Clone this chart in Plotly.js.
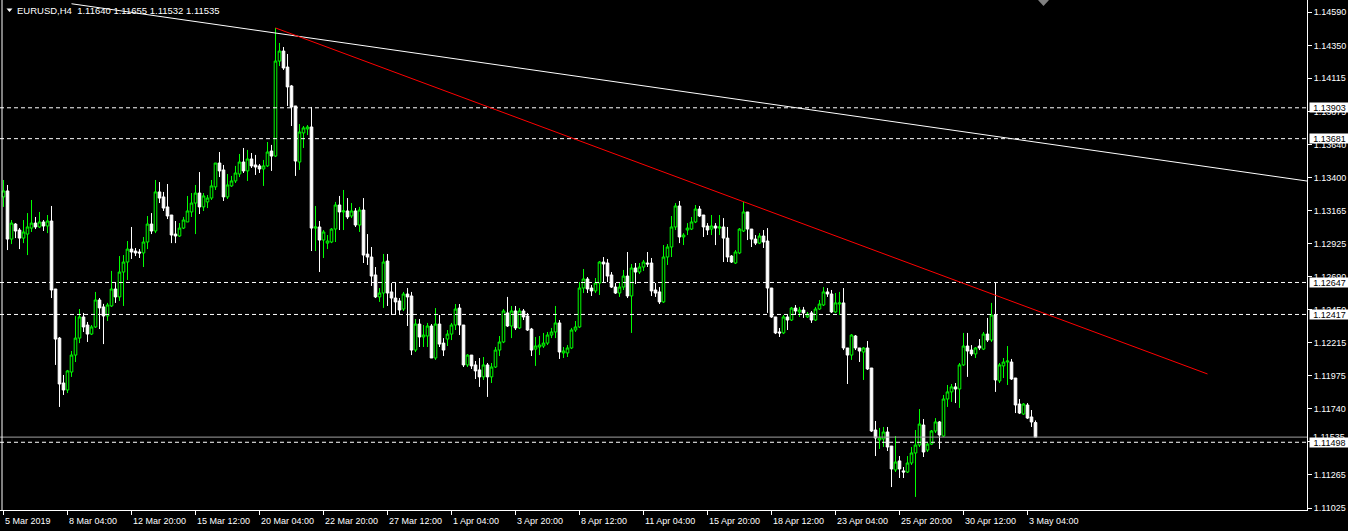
<!DOCTYPE html>
<html><head><meta charset="utf-8">
<script src="https://cdn.plot.ly/plotly-3.0.1.min.js"></script>
<style>html,body{margin:0;padding:0;background:#000;overflow:hidden}#chart{width:1348px;height:531px}</style>
</head><body><div id="chart"></div>
<script>
const symbolTitle = "EURUSD,H4";
const lastQuote = ["1.11640", "1.11655", "1.11532", "1.11535"];

const open = [
1.13262,1.13305,1.12959,1.13067,1.13024,1.12966,1.12995,1.13038,1.13074,1.13046,
1.13082,1.13053,1.13089,1.12600,1.12247,1.11924,1.11874,1.12003,1.12125,1.12247,
1.12399,1.12341,1.12276,1.12327,1.12521,1.12471,1.12406,1.12478,1.12600,1.12543,
1.12722,1.12794,1.12887,1.12873,1.12866,1.12859,1.12938,1.13067,1.13017,1.13298,
1.13262,1.13190,1.13132,1.12995,1.12981,1.13038,1.13082,1.13154,1.13218,1.13290,
1.13190,1.13226,1.13254,1.13334,1.13506,1.13456,1.13262,1.13341,1.13377,1.13427,
1.13513,1.13449,1.13535,1.13492,1.13485,1.13463,1.13485,1.13592,1.13556,1.14239,
1.14311,1.14196,1.14060,1.13916,1.13513,1.13722,1.13751,1.13765,1.13038,1.13046,
1.12952,1.12930,1.12938,1.13031,1.13204,1.13154,1.13161,1.13125,1.13161,1.13060,
1.13168,1.12851,1.12830,1.12701,1.12543,1.12571,1.12801,1.12579,1.12535,1.12514,
1.12456,1.12564,1.12550,1.12161,1.12348,1.12255,1.12262,1.12334,1.12104,1.12348,
1.12211,1.12240,1.12276,1.12341,1.12463,1.12341,1.12054,1.12125,1.12054,1.12018,
1.11968,1.12054,1.11968,1.12039,1.12161,1.12219,1.12428,1.12334,1.12442,1.12320,
1.12442,1.12406,1.12312,1.12168,1.12183,1.12190,1.12211,1.12269,1.12291,1.12356,
1.12140,1.12140,1.12176,1.12305,1.12327,1.12607,1.12672,1.12607,1.12586,1.12643,
1.12794,1.12787,1.12701,1.12614,1.12571,1.12614,1.12693,1.12550,1.12751,1.12722,
1.12758,1.12787,1.12787,1.12593,1.12579,1.12507,1.12830,1.12902,1.13046,1.13197,
1.12974,1.13024,1.13031,1.13082,1.13175,1.13132,1.13053,1.13031,1.13053,1.13038,
1.13046,1.12966,1.12837,1.12787,1.12859,1.13017,1.13154,1.13031,1.12959,1.12930,
1.12981,1.12945,1.12607,1.12399,1.12291,1.12284,1.12399,1.12377,1.12463,1.12435,
1.12449,1.12399,1.12428,1.12377,1.12456,1.12485,1.12579,1.12564,1.12435,1.12492,
1.12500,1.12176,1.12125,1.12262,1.12176,1.12147,1.12176,1.12032,1.11586,1.11514,
1.11522,1.11572,1.11471,1.11299,1.11364,1.11292,1.11284,1.11349,1.11421,1.11478,
1.11622,1.11442,1.11485,1.11579,1.11644,1.11543,1.11809,1.11860,1.11896,1.11881,
1.12054,1.12190,1.12161,1.12133,1.12190,1.12168,1.12276,1.12233,1.12413,1.11939,
1.12047,1.12075,1.12075,1.11960,1.11773,1.11701,1.11766,1.11680,1.11640
];
const high = [
1.13384,1.13348,1.13096,1.13074,1.13038,1.13096,1.13146,1.13240,1.13118,1.13154,
1.13096,1.13132,1.13197,1.12600,1.12255,1.11982,1.12018,1.12154,1.12406,1.12456,
1.12428,1.12363,1.12341,1.12579,1.12535,1.12493,1.12500,1.12730,1.12643,1.12837,
1.12844,1.12945,1.13046,1.12895,1.12887,1.12974,1.13125,1.13146,1.13384,1.13369,
1.13298,1.13355,1.13132,1.13089,1.13074,1.13118,1.13269,1.13290,1.13348,1.13441,
1.13290,1.13276,1.13384,1.13506,1.13585,1.13492,1.13427,1.13413,1.13485,1.13571,
1.13614,1.13600,1.13578,1.13564,1.13499,1.13528,1.13657,1.13636,1.14477,1.14369,
1.14340,1.14290,1.14067,1.13916,1.13786,1.13772,1.13779,1.13909,1.13197,1.13089,
1.13024,1.12988,1.13038,1.13226,1.13269,1.13312,1.13254,1.13218,1.13182,1.13190,
1.13254,1.12995,1.12902,1.12758,1.12607,1.12852,1.12852,1.12643,1.12650,1.12535,
1.12579,1.12607,1.12579,1.12384,1.12384,1.12341,1.12356,1.12348,1.12463,1.12413,
1.12247,1.12305,1.12356,1.12492,1.12492,1.12341,1.12132,1.12125,1.12082,1.12104,
1.12111,1.12068,1.12068,1.12183,1.12262,1.12456,1.12543,1.12478,1.12478,1.12463,
1.12456,1.12428,1.12320,1.12255,1.12262,1.12284,1.12291,1.12320,1.12478,1.12377,
1.12183,1.12197,1.12320,1.12370,1.12650,1.12744,1.12686,1.12629,1.12679,1.12801,
1.12830,1.12816,1.12722,1.12643,1.12643,1.12737,1.12866,1.12780,1.12787,1.12787,
1.12809,1.12866,1.12823,1.12643,1.12614,1.12916,1.12923,1.13125,1.13218,1.13233,
1.13002,1.13074,1.13118,1.13204,1.13197,1.13132,1.13074,1.13132,1.13074,1.13132,
1.13110,1.13046,1.12844,1.12880,1.13038,1.13226,1.13154,1.13031,1.12988,1.13002,
1.13024,1.13038,1.12607,1.12399,1.12320,1.12413,1.12413,1.12471,1.12485,1.12471,
1.12471,1.12435,1.12442,1.12471,1.12521,1.12614,1.12607,1.12593,1.12571,1.12579,
1.12607,1.12176,1.12276,1.12269,1.12176,1.12183,1.12226,1.12032,1.11651,1.11601,
1.11608,1.11608,1.11471,1.11543,1.11399,1.11320,1.11399,1.11464,1.11586,1.11737,
1.11665,1.11493,1.11586,1.11672,1.11651,1.11838,1.11910,1.11917,1.11924,1.12068,
1.12284,1.12284,1.12197,1.12183,1.12240,1.12291,1.12392,1.12500,1.12650,1.12068,
1.12104,1.12190,1.12097,1.11960,1.11809,1.11780,1.11780,1.11730,1.11655
];
const low = [
1.13190,1.12880,1.12923,1.12966,1.12887,1.12930,1.12844,1.13010,1.13031,1.13038,
1.13017,1.13002,1.12535,1.12054,1.11752,1.11838,1.11852,1.11968,1.12075,1.12211,
1.12291,1.12219,1.12269,1.12320,1.12312,1.12204,1.12370,1.12471,1.12500,1.12514,
1.12478,1.12665,1.12816,1.12837,1.12823,1.12758,1.12887,1.12995,1.13002,1.13218,
1.13161,1.13103,1.12930,1.12930,1.12974,1.13031,1.13082,1.13118,1.12995,1.13139,
1.13161,1.13182,1.13240,1.13312,1.13405,1.13233,1.13247,1.13334,1.13362,1.13405,
1.13434,1.13377,1.13470,1.13420,1.13434,1.13341,1.13477,1.13449,1.13549,1.14203,
1.14175,1.13916,1.13772,1.13413,1.13456,1.13614,1.13707,1.12873,1.12873,1.12722,
1.12823,1.12887,1.12930,1.12938,1.13024,1.13024,1.13103,1.13110,1.13046,1.13010,
1.12787,1.12773,1.12622,1.12535,1.12507,1.12464,1.12478,1.12413,1.12420,1.12420,
1.12442,1.12334,1.12125,1.12147,1.12183,1.12183,1.12183,1.12104,1.12090,1.12183,
1.12118,1.12190,1.12233,1.12305,1.12269,1.12039,1.12039,1.12025,1.11953,1.11896,
1.11946,1.11824,1.11924,1.12032,1.12118,1.12211,1.12327,1.12247,1.12305,1.12312,
1.12377,1.12298,1.12118,1.12047,1.12125,1.12176,1.12197,1.12247,1.12247,1.12097,
1.12104,1.12111,1.12168,1.12291,1.12320,1.12571,1.12571,1.12550,1.12571,1.12557,
1.12643,1.12650,1.12607,1.12564,1.12543,1.12593,1.12535,1.12284,1.12636,1.12708,
1.12730,1.12758,1.12550,1.12543,1.12492,1.12500,1.12773,1.12830,1.13024,1.12930,
1.12916,1.12988,1.13024,1.13074,1.13118,1.12974,1.12988,1.12988,1.12916,1.12988,
1.12794,1.12794,1.12787,1.12780,1.12851,1.13010,1.12952,1.12902,1.12916,1.12923,
1.12895,1.12428,1.12392,1.12276,1.12255,1.12276,1.12305,1.12370,1.12413,1.12399,
1.12392,1.12392,1.12356,1.12370,1.12449,1.12478,1.12543,1.12428,1.12428,1.12413,
1.12161,1.11917,1.12090,1.12161,1.12075,1.11946,1.12018,1.11572,1.11399,1.11450,
1.11464,1.11435,1.11176,1.11284,1.11241,1.11241,1.11277,1.11335,1.11105,1.11464,
1.11392,1.11428,1.11478,1.11565,1.11450,1.11536,1.11752,1.11788,1.11780,1.11745,
1.12047,1.11968,1.12118,1.12104,1.12161,1.12161,1.12219,1.12219,1.11860,1.11924,
1.11960,1.11910,1.11946,1.11708,1.11701,1.11694,1.11665,1.11608,1.11532
];
const close = [
1.13305,1.12959,1.13074,1.13017,1.12966,1.13010,1.13046,1.13074,1.13046,1.13082,
1.13053,1.13089,1.12593,1.12240,1.11917,1.11874,1.12011,1.12125,1.12247,1.12399,
1.12327,1.12276,1.12327,1.12521,1.12464,1.12406,1.12485,1.12600,1.12543,1.12722,
1.12794,1.12887,1.12866,1.12859,1.12859,1.12938,1.13067,1.13017,1.13298,1.13254,
1.13182,1.13125,1.12988,1.12981,1.13038,1.13096,1.13161,1.13218,1.13290,1.13190,
1.13269,1.13254,1.13341,1.13506,1.13449,1.13262,1.13348,1.13377,1.13434,1.13513,
1.13449,1.13535,1.13485,1.13477,1.13463,1.13485,1.13585,1.13556,1.14239,1.14311,
1.14189,1.14053,1.13909,1.13520,1.13729,1.13758,1.13765,1.13038,1.13046,1.12952,
1.13010,1.12945,1.13031,1.13204,1.13154,1.13161,1.13118,1.13161,1.13060,1.13168,
1.12844,1.12830,1.12693,1.12543,1.12571,1.12794,1.12571,1.12535,1.12507,1.12449,
1.12564,1.12543,1.12161,1.12348,1.12255,1.12269,1.12334,1.12104,1.12348,1.12204,
1.12161,1.12276,1.12341,1.12456,1.12341,1.12054,1.12125,1.12047,1.12011,1.11968,
1.12054,1.11968,1.12039,1.12161,1.12219,1.12442,1.12334,1.12442,1.12320,1.12442,
1.12399,1.12305,1.12161,1.12190,1.12197,1.12211,1.12269,1.12291,1.12356,1.12147,
1.12154,1.12176,1.12305,1.12327,1.12607,1.12672,1.12600,1.12586,1.12643,1.12794,
1.12780,1.12693,1.12614,1.12571,1.12614,1.12693,1.12550,1.12751,1.12722,1.12758,
1.12794,1.12780,1.12586,1.12571,1.12507,1.12830,1.12902,1.13046,1.13197,1.12974,
1.12988,1.13038,1.13082,1.13175,1.13125,1.13046,1.13024,1.13053,1.13038,1.13046,
1.12966,1.12830,1.12794,1.12866,1.13031,1.13154,1.13031,1.12959,1.12930,1.12981,
1.12938,1.12607,1.12399,1.12284,1.12284,1.12399,1.12377,1.12463,1.12442,1.12449,
1.12428,1.12420,1.12377,1.12456,1.12492,1.12579,1.12564,1.12435,1.12500,1.12500,
1.12176,1.12125,1.12269,1.12176,1.12154,1.12176,1.12025,1.11579,1.11529,1.11529,
1.11572,1.11464,1.11306,1.11356,1.11306,1.11284,1.11349,1.11421,1.11478,1.11629,
1.11428,1.11485,1.11579,1.11644,1.11550,1.11809,1.11860,1.11896,1.11881,1.12054,
1.12190,1.12154,1.12133,1.12176,1.12176,1.12276,1.12233,1.12413,1.11946,1.12054,
1.12075,1.12082,1.11953,1.11766,1.11708,1.11773,1.11672,1.11644,1.11535
];

const xTickLabels = ["5 Mar 2019","8 Mar 04:00","12 Mar 20:00","15 Mar 12:00","20 Mar 04:00",
  "22 Mar 20:00","27 Mar 12:00","1 Apr 04:00","3 Apr 20:00","8 Apr 12:00","11 Apr 04:00",
  "15 Apr 20:00","18 Apr 12:00","23 Apr 04:00","25 Apr 20:00","30 Apr 12:00","3 May 04:00"];
const barsPerLabel = 16;
const yTickValues = [1.14590,1.14350,1.14115,1.13875,1.13640,1.13400,1.13165,1.12925,
  1.12690,1.12450,1.12215,1.11975,1.11740,1.11505,1.11265,1.11025];
const levelLines = [1.13903, 1.13681, 1.12647, 1.12417, 1.11498];
const bidPrice = 1.11535;
const whiteTrend = {x: [17, 340], y: [1.14651, 1.13318]};
const redTrend = {x: [68, 301], y: [1.14477, 1.11989]};

const idx = open.map((_, i) => i);
const FONT = 'Liberation Sans, Arial, sans-serif';

const trace = {
  type: 'candlestick', x: idx, open: open, high: high, low: low, close: close,
  increasing: {line: {color: '#00ff00', width: 1}, fillcolor: '#000000'},
  decreasing: {line: {color: '#ffffff', width: 1}, fillcolor: '#ffffff'},
  whiskerwidth: 0, hoverinfo: 'skip'
};

const W = 1307, H = 510;
const shapes = [];
levelLines.forEach(v => shapes.push({type: 'line', xref: 'paper', x0: 0, x1: 1, yref: 'y', y0: v, y1: v,
  line: {color: '#ffffff', width: 1, dash: '4px,3px'}}));
shapes.push({type: 'line', xref: 'paper', x0: 0, x1: 1, yref: 'y', y0: bidPrice, y1: bidPrice,
  line: {color: '#a0a0a0', width: 1}});
shapes.push({type: 'line', xref: 'x', yref: 'y', x0: whiteTrend.x[0], x1: whiteTrend.x[1],
  y0: whiteTrend.y[0], y1: whiteTrend.y[1], line: {color: '#ffffff', width: 1}});
shapes.push({type: 'line', xref: 'x', yref: 'y', x0: redTrend.x[0], x1: redTrend.x[1],
  y0: redTrend.y[0], y1: redTrend.y[1], line: {color: '#ff0000', width: 1}});
shapes.push({type: 'line', xref: 'paper', yref: 'paper', x0: 2 / W, x1: 2 / W, y0: 0, y1: 1,
  line: {color: '#ffffff', width: 1}});
// small title triangle
shapes.push({type: 'path', xref: 'paper', yref: 'paper',
  path: `M ${6.5 / W} ${1 - 8.5 / H} L ${12.5 / W} ${1 - 8.5 / H} L ${9.5 / W} ${1 - 12 / H} Z`,
  fillcolor: '#ffffff', line: {width: 0}});
// chart shift marker
shapes.push({type: 'path', xref: 'paper', yref: 'paper',
  path: `M ${1038 / W} 1 L ${1049 / W} 1 L ${1043.5 / W} ${1 - 6 / H} Z`,
  fillcolor: '#808080', line: {width: 0}});

const annotations = [];
annotations.push({xref: 'paper', yref: 'paper', x: 0, y: 1, xanchor: 'left', yanchor: 'top',
  xshift: 16, yshift: -4, showarrow: false, borderpad: 0,
  text: symbolTitle + '  ' + lastQuote.join(' '), font: {family: FONT, size: 9.5, color: '#ffffff'}});
xTickLabels.forEach((t, k) => annotations.push({xref: 'x', yref: 'paper', x: k * barsPerLabel, y: 0,
  xanchor: 'left', yanchor: 'top', xshift: 0, yshift: -5, showarrow: false, borderpad: 0,
  text: t, font: {family: FONT, size: 9, color: '#ffffff'}}));
annotations.push({xref: 'paper', yref: 'y', x: 1, y: bidPrice, xanchor: 'left', yanchor: 'middle',
  xshift: 5, showarrow: false, borderpad: 0, text: bidPrice.toFixed(5),
  font: {family: FONT, size: 9, color: '#ffffff'}});
levelLines.forEach(v => annotations.push({xref: 'paper', yref: 'y', x: 1, y: v, xanchor: 'left',
  yanchor: 'middle', xshift: 1.5, showarrow: false, borderpad: 0, width: 39, height: 9, align: 'center',
  bgcolor: '#ffffff', text: v.toFixed(5), font: {family: FONT, size: 9, color: '#000000'}}));

const layout = {
  width: 1348, height: 531,
  margin: {l: 0, r: 41, t: 0, b: 21, pad: 0},
  paper_bgcolor: '#000000', plot_bgcolor: '#000000',
  showlegend: false,
  font: {family: FONT, size: 9, color: '#ffffff'},
  boxgap: 0.35, boxgroupgap: 0,
  xaxis: {range: [-0.875, 325.875], showgrid: false, zeroline: false, showline: true,
    linecolor: '#ffffff', linewidth: 1, ticks: 'outside', ticklen: 4, tickcolor: '#ffffff',
    tickvals: xTickLabels.map((_, k) => k * barsPerLabel), showticklabels: false,
    rangeslider: {visible: false}, fixedrange: true},
  yaxis: {range: [1.11011, 1.14678], side: 'right', showgrid: false, zeroline: false,
    showline: true, linecolor: '#ffffff', linewidth: 1, ticks: 'outside', ticklen: 4,
    tickcolor: '#ffffff', tickvals: yTickValues, ticktext: yTickValues.map(v => v.toFixed(5)),
    tickfont: {family: FONT, size: 9, color: '#ffffff'}, fixedrange: true},
  shapes: shapes,
  annotations: annotations
};

Plotly.newPlot('chart', [trace], layout, {displayModeBar: false, staticPlot: true});
</script>
</body></html>
